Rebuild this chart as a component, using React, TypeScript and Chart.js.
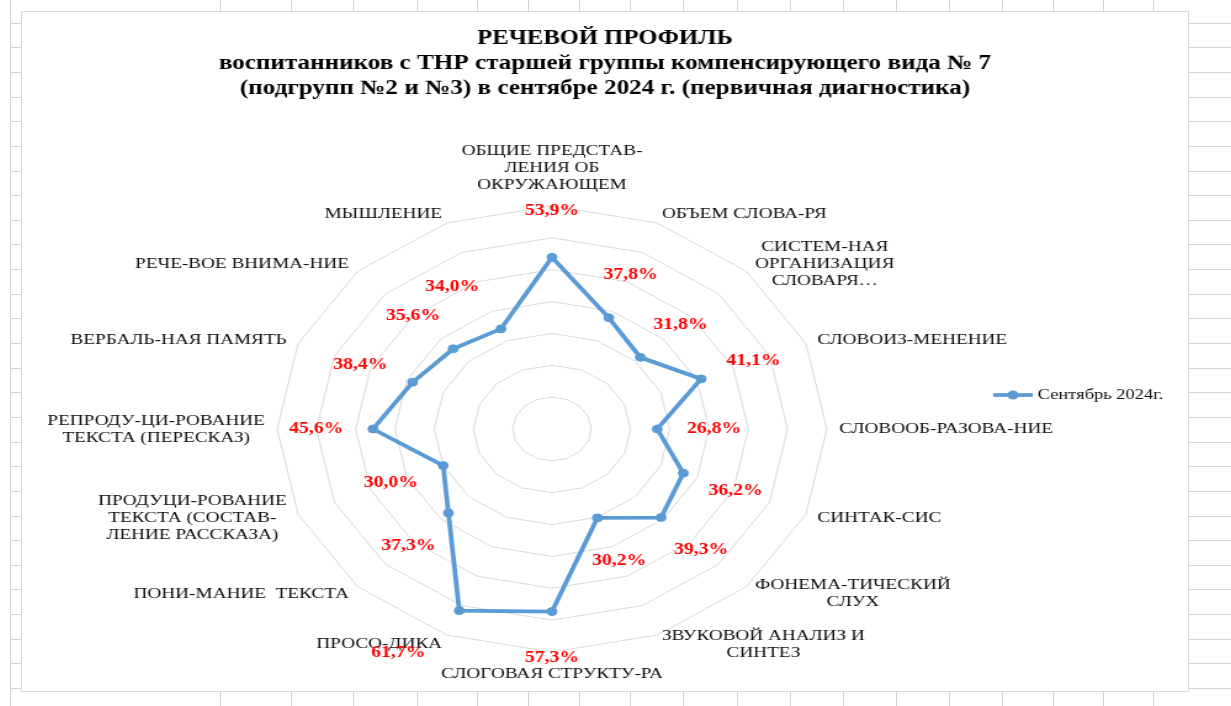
import { useEffect, useRef } from "react";
import { Chart, registerables } from "chart.js";

Chart.register(...registerables);

// ---------- data ----------
const titleText = "РЕЧЕВОЙ ПРОФИЛЬ";
const subtitleLines = [
  "воспитанников с ТНР старшей группы компенсирующего вида № 7",
  "(подгрупп №2 и №3) в сентябре 2024 г. (первичная диагностика)",
];
const seriesName = "Сентябрь 2024г.";

const categories: string[][] = [
  ["ОБЩИЕ ПРЕДСТАВ-", "ЛЕНИЯ ОБ", "ОКРУЖАЮЩЕМ"],
  ["ОБЪЕМ СЛОВА-РЯ"],
  ["СИСТЕМ-НАЯ", "ОРГАНИЗАЦИЯ", "СЛОВАРЯ…"],
  ["СЛОВОИЗ-МЕНЕНИЕ"],
  ["СЛОВООБ-РАЗОВА-НИЕ"],
  ["СИНТАК-СИС"],
  ["ФОНЕМА-ТИЧЕСКИЙ", "СЛУХ"],
  ["ЗВУКОВОЙ АНАЛИЗ И", "СИНТЕЗ"],
  ["СЛОГОВАЯ СТРУКТУ-РА"],
  ["ПРОСО-ДИКА"],
  ["ПОНИ-МАНИЕ  ТЕКСТА"],
  ["ПРОДУЦИ-РОВАНИЕ", "ТЕКСТА (СОСТАВ-", "ЛЕНИЕ РАССКАЗА)"],
  ["РЕПРОДУ-ЦИ-РОВАНИЕ", "ТЕКСТА (ПЕРЕСКАЗ)"],
  ["ВЕРБАЛЬ-НАЯ ПАМЯТЬ"],
  ["РЕЧЕ-ВОЕ ВНИМА-НИЕ"],
  ["МЫШЛЕНИЕ"],
];

const septemberValues = [
  53.9, 37.8, 31.8, 41.1, 26.8, 36.2, 39.3, 30.2, 57.3, 61.7, 37.3, 30.0, 45.6,
  38.4, 35.6, 34.0,
];

const scaleMin = 0;
const scaleMax = 70;
const scaleStep = 10;

// ---------- layout / style ----------
const FONT = "'Liberation Serif', 'Times New Roman', serif";
const BLUE = "#5B9BD5";
const PAGE_W = 1231;
const PAGE_H = 706;
const BOX = { left: 21, top: 11, width: 1168, height: 681 };
const CANVAS_W = 946;
const CANVAS_H = 679;
const STRETCH_X = (BOX.width - 2) / CANVAS_W;
const CENTER_SHIFT_X = -43;
const ROW_START = 22.7;
const ROW_STEP = 24.64;
const ROW_COUNT = 28;
const COLUMN_LINES = [10, 220, 291, 353, 417, 477, 528, 579, 630, 683, 737, 790, 843, 896, 949, 1002, 1053, 1103, 1153];
const SHEET_LINE = "#D4D4D4";

const PL_SIZE = 15.6;
const PL_LINE = 17;
const DL_SIZE = 16;
const DATA_LABEL_OFFSET = 46;
const labelNudgeX: Record<number, number> = { 9: -32, 15: -22 };

const toDeg = (r: number) => (r * 180) / Math.PI;
const fmtPct = (v: number) => v.toFixed(1).replace(".", ",") + "%";

const pointLabelPlugin = {
  id: "excelPointLabels",
  beforeDatasetsDraw(chart: any) {
    const scale = chart.scales.r;
    const ctx: CanvasRenderingContext2D = chart.ctx;
    const labels = chart.data.labels as string[][];
    ctx.save();
    ctx.font = `${PL_SIZE}px ${FONT}`;
    ctx.fillStyle = "#0d0d0d";
    ctx.textBaseline = "middle";
    ctx.textAlign = "center";
    labels.forEach((lab, i) => {
      const lines = Array.isArray(lab) ? lab : [lab];
      const deg = Math.round(toDeg(scale.getIndexAngle(i))) % 360;
      const vertical = deg === 0 || deg === 180;
      const pad = vertical ? 13 : 10;
      const p = scale.getPointPosition(i, scale.drawingArea + pad);
      const blockW = Math.max(...lines.map((l) => ctx.measureText(l).width));
      const blockH = lines.length * PL_LINE;
      let cx = p.x;
      if (!vertical) cx = deg < 180 ? p.x + blockW / 2 : p.x - blockW / 2;
      let top = p.y - blockH / 2;
      if (deg === 0) top = p.y - blockH;
      if (deg === 180) top = p.y;
      lines.forEach((l, k) => ctx.fillText(l, cx, top + PL_LINE * (k + 0.5)));
    });
    ctx.restore();
  },
};

const dataLabelPlugin = {
  id: "excelDataLabels",
  afterDatasetsDraw(chart: any) {
    const scale = chart.scales.r;
    const ctx: CanvasRenderingContext2D = chart.ctx;
    const data = chart.data.datasets[0].data as number[];
    ctx.save();
    ctx.font = `bold ${DL_SIZE}px ${FONT}`;
    ctx.fillStyle = "#FF0000";
    ctx.textAlign = "center";
    ctx.textBaseline = "middle";
    data.forEach((v, i) => {
      const d = scale.getDistanceFromCenterForValue(v) + DATA_LABEL_OFFSET;
      const p = scale.getPointPosition(i, d);
      ctx.fillText(fmtPct(v), p.x + (labelNudgeX[i] ?? 0), p.y);
    });
    ctx.restore();
  },
};

const legendPlugin = {
  id: "excelLegend",
  afterDraw(chart: any) {
    const ctx: CanvasRenderingContext2D = chart.ctx;
    const ds = chart.data.datasets[0];
    const y = 383;
    const x0 = 788;
    const x1 = 820;
    ctx.save();
    ctx.strokeStyle = BLUE;
    ctx.lineWidth = 3.8;
    ctx.beginPath();
    ctx.moveTo(x0, y);
    ctx.lineTo(x1, y);
    ctx.stroke();
    ctx.fillStyle = BLUE;
    ctx.beginPath();
    ctx.arc((x0 + x1) / 2, y, 4.5, 0, Math.PI * 2);
    ctx.fill();
    ctx.font = `15px ${FONT}`;
    ctx.fillStyle = "#0d0d0d";
    ctx.textAlign = "left";
    ctx.textBaseline = "middle";
    ctx.fillText(ds.label, x1 + 4, y);
    ctx.restore();
  },
};

export default function App() {
  const ref = useRef<HTMLCanvasElement>(null);

  useEffect(() => {
    if (!ref.current) return;
    const chart = new Chart(ref.current, {
      type: "radar",
      data: {
        labels: categories as any,
        datasets: [
          {
            label: seriesName,
            data: septemberValues,
            borderColor: BLUE,
            backgroundColor: BLUE,
            borderWidth: 3.8,
            pointRadius: 4,
            pointBorderWidth: 1,
            pointBackgroundColor: BLUE,
            pointBorderColor: BLUE,
            fill: false,
            tension: 0,
          },
        ],
      },
      options: {
        responsive: false,
        animation: false,
        devicePixelRatio: 1,
        layout: { padding: { top: 0, left: 0, right: 0, bottom: 39 } },
        plugins: {
          legend: { display: false },
          tooltip: { enabled: false },
          title: {
            display: true,
            text: titleText,
            color: "#000",
            font: { family: FONT, size: 20, weight: "bold", lineHeight: 1.2 },
            padding: { top: 15, bottom: 0 },
          },
          subtitle: {
            display: true,
            text: subtitleLines,
            color: "#000",
            font: { family: FONT, size: 20.4, weight: "bold", lineHeight: 25 / 20.4 },
            padding: { top: 0, bottom: 105 },
          },
        },
        scales: {
          r: {
            min: scaleMin,
            max: scaleMax,
            ticks: { display: false, stepSize: scaleStep },
            grid: { color: "#D9D9D9", lineWidth: 1 },
            angleLines: { display: false },
            pointLabels: { display: false },
            afterFit: (s: any) => {
              s.xCenter += CENTER_SHIFT_X;
            },
          } as any,
        },
      },
      plugins: [pointLabelPlugin, dataLabelPlugin, legendPlugin],
    });
    return () => chart.destroy();
  }, []);

  const rows = Array.from({ length: ROW_COUNT }, (_, k) => Math.round(ROW_START + ROW_STEP * k));

  return (
    <div
      style={{
        position: "fixed",
        left: 0,
        top: 0,
        width: PAGE_W,
        height: PAGE_H,
        background: "#fff",
        overflow: "hidden",
      }}
    >
      {rows.map((y) => (
        <div key={"r" + y} style={{ position: "absolute", left: 10, right: 0, top: y, height: 1, background: SHEET_LINE }} />
      ))}
      {COLUMN_LINES.map((x) => (
        <div key={"c" + x} style={{ position: "absolute", left: x, top: 0, width: 1, height: PAGE_H, background: SHEET_LINE }} />
      ))}
      <div
        style={{
          position: "absolute",
          left: BOX.left,
          top: BOX.top,
          width: BOX.width,
          height: BOX.height,
          boxSizing: "border-box",
          border: "1px solid #D9D9D9",
          background: "#fff",
          overflow: "hidden",
        }}
      >
        <div
          style={{
            width: CANVAS_W,
            height: CANVAS_H,
            transform: `scaleX(${STRETCH_X})`,
            transformOrigin: "0 0",
          }}
        >
          <canvas
            ref={ref}
            width={CANVAS_W}
            height={CANVAS_H}
            style={{ display: "block", width: CANVAS_W, height: CANVAS_H }}
          />
        </div>
      </div>
    </div>
  );
}
